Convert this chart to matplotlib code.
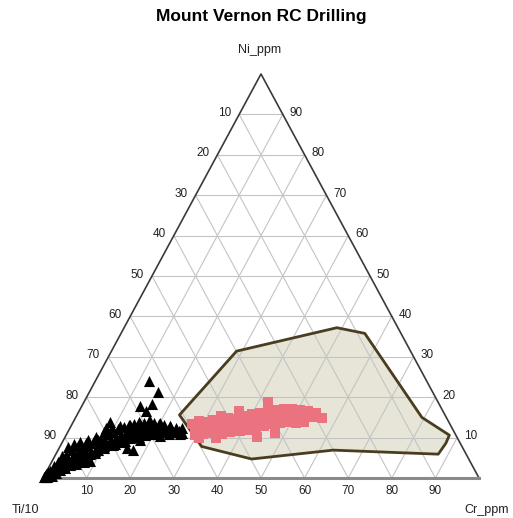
import matplotlib
matplotlib.use("Agg")
import matplotlib.pyplot as plt
import numpy as np

plt.rcParams['font.family'] = ['Liberation Sans', 'DejaVu Sans']

title = "Mount Vernon RC Drilling"
corner_labels = ["Ti/10", "Cr_ppm", "Ni_ppm"]
grid_values = [10, 20, 30, 40, 50, 60, 70, 80, 90]

# envelope around the pink samples (Cr %, Ni %), Ti = 100 - Cr - Ni
env_cr = [23.5, 28.7, 48.8, 55.9, 79.4, 87.9, 88.1, 87.7, 63.1, 45.5, 32.5]
env_ni = [15.6, 31.4, 37.2, 35.8, 15.0, 10.6, 8.6, 5.9, 6.9, 4.7, 7.8]

# black triangles (Cr %, Ni %)
tri_cr = [0.2, 0.6, 0.7, 1.8, 1.3, 2.4, 1.8, 2.9, 2.6, 3.8, 3.4, 4.6, 4.2, 5.3,
          4.9, 6.3, 5.7, 7.0, 6.3, 7.8, 7.2, 8.6, 7.9, 9.3, 8.7, 10.0, 9.5, 10.8,
          8.3, 8.5, 10.4, 11.7, 11.1, 12.6, 12.3, 13.4, 13.1, 14.4, 14.2, 15.4,
          15.1, 16.3, 16.4, 17.7, 17.2, 18.5, 18.7, 20.0, 19.9, 21.3, 21.2, 22.6,
          22.7, 24.1, 24.3, 25.4, 26.3,
          12.3, 15.8, 13.4, 15.8, 15.3, 15.6, 17.1,
          0.1, 0.5, 1.0, 0.3, 3.1, 6.0, 7.2, 8.9, 10.2, 12.0, 13.8, 15.0, 16.9,
          18.2, 19.5, 21.0, 22.0, 23.4,
          2.0, 3.3, 4.5, 5.6, 6.7, 7.8, 9.0, 10.2, 11.4, 12.6, 13.8, 15.0, 16.2,
          17.4, 18.8, 20.2, 21.6, 23.0, 24.6, 25.8, 0.2, 0.9, 0.5,
          1.7, 1.9, 2.9, 4.0, 5.6, 7.1, 8.3, 9.6, 11.2, 13.4, 15.6, 17.5, 20.0,
          22.7,
          2.4, 3.2, 4.1, 5.5, 7.1, 8.6, 1.4, 1.0, 2.9, 4.2, 5.8, 7.4, 8.7, 0.9,
          12.3, 14.2, 17.5, 21.6, 26.0]
tri_ni = [0.5, 1.0, 1.7, 0.5, 2.5, 1.2, 3.2, 2.0, 4.0, 2.5, 4.7, 3.2, 5.4, 4.0,
          6.2, 4.5, 6.9, 5.2, 7.9, 5.9, 8.7, 6.7, 9.4, 7.7, 10.1, 8.4, 10.9, 9.2,
          12.4, 13.9, 11.4, 9.9, 12.1, 10.6, 12.6, 11.1, 13.1, 11.6, 13.4, 11.9,
          13.9, 12.4, 13.6, 11.9, 14.1, 12.6, 13.6, 11.9, 13.4, 11.6, 13.1, 11.6,
          12.9, 11.4, 12.4, 11.6, 11.1,
          24.0, 21.3, 17.8, 18.3, 16.6, 7.4, 6.9,
          0.2, 0.3, 0.9, 1.5, 2.8, 4.5, 5.7, 6.2, 7.4, 8.2, 9.0, 9.8, 10.2,
          10.6, 11.0, 10.8, 11.3, 11.0,
          2.0, 3.0, 3.8, 4.6, 5.5, 6.3, 7.0, 7.8, 8.6, 9.4, 10.0, 10.4, 10.9,
          11.2, 11.6, 11.9, 12.1, 12.2, 11.9, 12.3, 0.9, 0.2, 0.5,
          5.4, 7.7, 8.4, 8.9, 9.4, 10.1, 11.4, 12.4, 12.9, 13.1, 13.4, 14.1, 13.6,
          12.9,
          5.7, 6.9, 7.9, 8.7, 9.2, 9.9, 4.0, 3.0, 3.0, 4.0, 3.5, 4.0, 4.2, 0.5,
          8.4, 9.2, 9.4, 10.4, 10.9]

# pink squares (Cr %, Ni %)
sq_cr = [27.5, 28.7, 30.5, 31.8, 35.0, 36.7, 38.4, 40.0, 41.7, 43.3, 45.0, 46.8,
         48.6, 50.5, 52.5, 54.6,
         28.9, 30.3, 32.0, 33.7, 35.4, 37.1, 38.7, 40.4, 42.1, 43.7, 45.4, 47.2,
         48.9, 50.8, 52.7, 54.6, 56.6,
         29.6, 31.3, 33.2, 35.6, 37.2, 39.4, 41.1, 42.7, 44.3, 45.8, 47.6, 49.3,
         51.2, 52.9,
         42.2, 36.7, 33.2, 47.7, 44.0, 34.7, 30.8,
         33.5, 39.0, 44.5, 49.8, 53.6]
sq_ni = [13.4, 14.1, 13.9, 14.4, 14.9, 14.6, 15.4, 15.8, 16.1, 16.6, 16.8, 17.1,
         17.1, 16.8, 16.6, 16.1,
         11.9, 12.4, 12.6, 12.9, 13.1, 13.4, 13.9, 14.1, 14.4, 14.9, 15.1, 15.4,
         15.6, 15.4, 15.4, 15.1, 14.9,
         10.6, 10.9, 11.1, 10.9, 11.4, 11.6, 11.9, 12.4, 12.9, 13.4, 13.6, 13.9,
         13.6, 13.9,
         18.8, 16.6, 15.4, 11.1, 10.2, 9.9, 9.9,
         13.9, 15.0, 15.9, 16.2, 15.7]


def to_xy(cr, ni):
    cr = np.asarray(cr, dtype=float)
    ni = np.asarray(ni, dtype=float)
    return cr + ni / 2.0, ni


fig = plt.figure(figsize=(5.13, 5.18), dpi=100)
W, H = 513.0, 518.0
ax = fig.add_axes([43 / W, (H - 478) / H, 436 / W, 404 / H])
ax.set_xlim(0, 100)
ax.set_ylim(0, 100)
ax.axis('off')

# envelope fill
ex, ey = to_xy(env_cr, env_ni)
ax.fill(ex, ey, color='#e6e5d8', zorder=1, lw=0)

# grid lines
gc = '#c4c4c4'
for v in grid_values:
    # constant Ni
    x1, y1 = to_xy([0, 100 - v], [v, v])
    ax.plot(x1, y1, color=gc, lw=0.8, zorder=2)
    # constant Cr
    x2, y2 = to_xy([v, v], [0, 100 - v])
    ax.plot(x2, y2, color=gc, lw=0.8, zorder=2)
    # constant Ti
    x3, y3 = to_xy([100 - v, 0], [0, 100 - v])
    ax.plot(x3, y3, color=gc, lw=0.8, zorder=2)

# triangle frame
ax.plot([0, 50, 100], [0, 100, 0], color='#3a3a3a', lw=1.2, zorder=3,
        clip_on=False)
ax.plot([0, 100], [0, 0], color='#8a8a8a', lw=2.2, zorder=3, clip_on=False)

# envelope outline
ax.fill(ex, ey, facecolor='none', edgecolor='#4a3d1f', lw=2.0, zorder=4,
        joinstyle='round')

# samples
tx, ty = to_xy(tri_cr, tri_ni)
ax.scatter(tx, ty, marker='^', s=64, color='black', lw=0, zorder=5,
           clip_on=False)
sx, sy = to_xy(sq_cr, sq_ni)
ax.scatter(sx, sy, marker='s', s=42, color='#ea737f', lw=0, zorder=6)

# axis value labels
for v in grid_values:
    # left edge: Ti
    x, y = to_xy([0], [100 - v])
    ax.annotate(str(v), (x[0], y[0]), xytext=(-6, 1), textcoords='offset points',
                ha='right', va='center', fontsize=8.5, color='#222222')
    # right edge: Ni
    x, y = to_xy([100 - v], [v])
    ax.annotate(str(v), (x[0], y[0]), xytext=(5, 1), textcoords='offset points',
                ha='left', va='center', fontsize=8.5, color='#222222')
    # bottom: Cr
    x, y = to_xy([v], [0])
    ax.annotate(str(v), (x[0], y[0]), xytext=(0, -9), textcoords='offset points',
                ha='center', va='center', fontsize=8.5, color='#222222')

fig.text(25 / W, 1 - 510 / H, corner_labels[0], ha='center', va='center',
         fontsize=9, color='#222222')
fig.text(487 / W, 1 - 510 / H, corner_labels[1], ha='center', va='center',
         fontsize=9, color='#222222')
fig.text(260 / W, 1 - 50 / H, corner_labels[2], ha='center', va='center',
         fontsize=9, color='#222222')
fig.text(261 / W, 1 - 17 / H, title, ha='center', va='center', fontsize=12.5,
         fontweight='bold')

fig.savefig('out.png', dpi=100)
